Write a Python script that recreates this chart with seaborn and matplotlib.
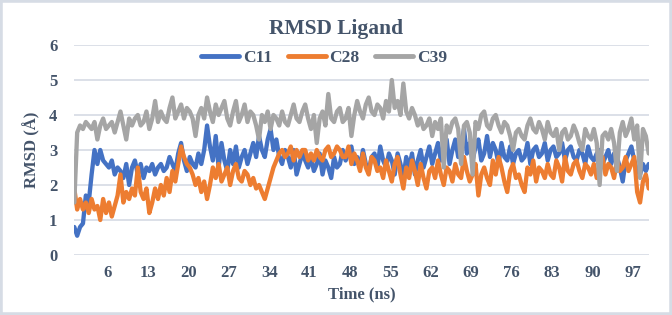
import matplotlib
matplotlib.use("Agg")
import matplotlib.pyplot as plt
from matplotlib.patches import Rectangle
import numpy as np
import pandas as pd
import seaborn as sns


# time axis (ns) and RMSD values, two per ns
time_ns = np.arange(0.25, 100, 0.5)

c11 = [0.8, 0.55, 0.8, 0.9, 1.7, 1.5, 2.3, 3.0, 2.6, 3.0,
       2.7, 2.6, 2.5, 2.7, 2.3, 2.5, 2.4, 2.2, 2.6, 2.0,
       2.5, 2.7, 2.3, 2.6, 2.2, 2.5, 2.4, 2.6, 2.3, 2.5,
       2.6, 2.4, 2.5, 2.8, 2.6, 2.4, 2.9, 3.2, 2.7, 2.4,
       2.8, 2.6, 2.5, 2.9, 2.6, 3.0, 3.7, 3.1, 2.7, 3.4,
       2.5, 3.2, 2.7, 2.4, 3.0, 2.6, 3.1, 2.5, 2.8, 3.0,
       2.6, 2.9, 3.2, 2.8, 3.4, 3.0, 2.8, 3.3, 3.6, 3.0,
       3.3, 2.8, 2.6, 3.0, 2.8, 2.5, 3.0, 2.3, 2.6, 2.9,
       2.7, 2.5, 2.8, 2.4, 2.6, 2.9, 2.3, 2.7, 2.5, 2.2,
       2.8, 2.5, 2.6, 3.0, 2.7, 2.9, 3.1, 2.6, 2.8, 2.5,
       3.0, 2.6, 2.4, 2.8, 2.9, 2.5, 3.1, 2.7, 2.5, 2.9,
       2.7, 2.3, 2.9, 2.6, 2.2, 2.8, 2.5, 2.9, 2.3, 2.7,
       3.0, 2.5, 2.8, 3.1, 2.6, 2.9, 3.2, 2.7, 2.9, 3.3,
       2.6, 3.0, 3.3, 2.8, 3.1, 3.6, 2.9, 3.2, 2.7, 3.1,
       3.3, 2.7, 2.9, 3.4, 2.8, 3.2, 3.0, 2.6, 3.2, 2.8,
       2.7, 3.1, 2.6, 2.9, 3.0, 2.7, 2.8, 3.2, 2.6, 3.0,
       3.1, 2.8, 2.9, 3.2, 2.7, 3.0, 3.1, 2.8, 2.9, 3.2,
       2.7, 3.0, 3.1, 2.8, 2.7, 3.0, 2.9, 2.6, 3.1, 2.8,
       2.7, 2.9, 3.0, 2.6, 2.8, 3.0, 2.6, 2.9, 2.8, 2.5,
       2.1, 2.7, 2.9, 3.1, 2.7, 2.4, 2.3, 2.6, 2.4, 2.6]

c28 = [1.9, 1.3, 1.6, 1.3, 1.5, 1.2, 1.6, 1.3, 1.4, 1.0,
       1.6, 1.2, 1.5, 1.1, 1.4, 1.7, 2.3, 1.5, 1.8, 1.6,
       1.9, 1.7, 2.5, 1.8, 1.6, 1.9, 1.2, 1.5, 1.9, 1.6,
       2.0, 1.7, 2.2, 1.8, 2.4, 2.1, 2.6, 3.1, 2.8, 2.6,
       2.5, 2.3, 2.0, 2.2, 1.8, 2.1, 1.6, 2.0, 2.5, 2.2,
       2.6, 2.1, 2.3, 2.5, 2.0, 2.4, 2.6, 2.2, 2.1, 2.4,
       2.3, 2.0, 2.2, 1.9, 2.0, 1.8, 1.6, 1.9, 2.2, 2.5,
       2.7, 2.9, 3.0, 2.8, 2.9, 3.1, 2.7, 3.0, 2.8, 3.0,
       3.0, 2.7, 2.9, 2.7, 3.0, 2.8, 2.7, 3.0, 3.1, 2.8,
       2.9, 3.1, 3.0, 2.8, 2.8, 3.1, 2.6, 2.9, 2.7, 2.4,
       2.9, 2.5, 2.3, 2.8, 2.7, 2.4, 2.5, 2.2, 2.7, 2.4,
       2.1, 2.6, 2.8, 2.3, 1.9, 2.5, 2.2, 2.7, 2.4, 2.0,
       2.6, 2.2, 1.9, 2.4, 2.5, 2.2, 2.7, 2.3, 2.0, 2.5,
       2.4, 2.1, 2.6, 2.3, 2.2, 2.8, 2.4, 2.1, 2.3, 2.6,
       1.7, 2.3, 2.5, 2.2, 2.0, 2.7, 2.3, 2.8, 2.5, 2.1,
       1.8, 2.4, 2.6, 2.2, 2.3, 2.0, 1.8, 2.5, 2.3, 2.7,
       2.1, 2.5, 2.4, 2.2, 2.6, 2.3, 2.2, 2.7, 2.5, 2.1,
       2.8, 2.4, 2.3, 2.6, 2.7, 2.4, 2.2, 2.6, 2.5, 2.3,
       2.6, 2.2, 2.4, 2.8, 2.3, 2.6, 2.5, 2.2, 2.7, 2.4,
       2.5, 2.8, 2.4, 2.6, 2.8, 1.8, 1.5, 2.1, 2.3, 1.9]

c39 = [1.5, 3.5, 3.7, 3.6, 3.8, 3.7, 3.6, 3.8, 3.3, 3.7,
       3.9, 3.6, 3.7, 3.8, 3.5, 3.8, 4.1, 3.7, 3.3, 3.9,
       3.7, 3.9, 4.0, 3.7, 3.8, 4.1, 3.6, 3.9, 4.4, 3.8,
       4.1, 3.9, 3.8, 4.2, 4.5, 3.9, 4.1, 4.3, 3.9, 4.2,
       4.1, 3.9, 3.4, 4.0, 4.2, 3.9, 4.5, 4.1, 3.8, 4.3,
       4.0, 4.2, 4.4, 3.9, 3.7, 4.1, 4.4, 3.8, 4.0, 4.3,
       3.8, 4.1, 4.0, 3.7, 3.3, 4.0, 3.8, 4.1, 3.6, 4.0,
       3.9, 3.7, 4.1, 3.8, 3.7, 4.0, 4.3, 3.9, 3.8, 4.1,
       4.3, 3.9, 3.6, 4.0, 3.2, 3.9, 4.1, 3.7, 4.6, 3.9,
       3.8, 4.1, 4.2, 3.8, 3.9, 4.2, 3.4, 4.0, 4.4, 4.1,
       3.9, 4.3, 4.5, 4.1, 4.0, 4.3, 4.2, 3.9, 4.4, 4.1,
       5.0, 4.2, 4.4, 4.0, 4.9, 4.1, 3.9, 4.2, 4.0, 3.7,
       3.9, 3.6, 3.7, 3.9, 3.4, 3.8, 3.6, 3.9, 2.5, 3.7,
       3.5, 3.8, 3.9, 3.6, 2.6, 3.7, 3.8, 3.5, 2.3, 3.8,
       3.6, 4.0, 4.1, 3.7, 3.6, 3.9, 4.0, 3.7, 3.5, 3.8,
       3.7, 3.4, 3.0, 3.5, 3.6, 3.4, 3.3, 3.7, 3.9, 3.6,
       3.5, 3.8, 3.6, 3.3, 3.8, 3.5, 3.4, 3.6, 3.0, 3.5,
       3.6, 3.3, 3.4, 3.7, 3.5, 3.2, 3.0, 3.6, 3.4, 3.3,
       3.6, 3.2, 2.0, 3.4, 3.5, 3.3, 3.6, 3.2, 2.4, 3.5,
       3.8, 3.4, 3.6, 3.9, 3.3, 3.7, 2.2, 3.6, 3.4, 2.9]

series_names = ["C11", "C28", "C39"]
series_colors = ["#4472C4", "#ED7D31", "#A5A5A5"]
x_ticks = [6, 13, 20, 27, 34, 41, 48, 55, 62, 69, 76, 83, 90, 97]

df = pd.concat([
    pd.DataFrame({"time": time_ns, "rmsd": vals, "ligand": name})
    for name, vals in zip(series_names, [c11, c28, c39])
])

sns.set_theme(style="white")
plt.rcParams["font.family"] = ["Liberation Serif", "DejaVu Serif"]
plt.rcParams["font.weight"] = "bold"
text_col = "#44546A"

fig = plt.figure(figsize=(6.72, 3.15), dpi=100)
ax = fig.add_axes([74 / 672, 1 - 255 / 315, 575 / 672, 210 / 315])

sns.lineplot(data=df, x="time", y="rmsd", hue="ligand", hue_order=series_names,
             palette=series_colors, estimator=None, linewidth=3.1, ax=ax)

ax.set_xlim(0.2, 99.8)
ax.set_ylim(0, 6)
ax.set_xticks(x_ticks)
ax.set_yticks(range(0, 7))
ax.grid(axis="y", color="#D9DDE6", linewidth=1.3)
ax.set_axisbelow(True)
for s in ax.spines.values():
    s.set_visible(False)
ax.tick_params(axis="both", length=0, labelsize=12, colors=text_col)
ax.tick_params(axis="y", pad=12)
ax.tick_params(axis="x", pad=7)
for lab in ax.get_xticklabels() + ax.get_yticklabels():
    lab.set_fontweight("bold")

ax.set_xlabel("Time (ns)", fontsize=12, fontweight="bold", color=text_col, labelpad=4)
ax.set_ylabel("RMSD (Å)", fontsize=12, fontweight="bold", color=text_col, labelpad=6)

handles, labels = ax.get_legend_handles_labels()
leg = ax.legend(handles, labels, loc="center", bbox_to_anchor=(0.435, 0.938),
                ncol=3, frameon=False, fontsize=12.5, handlelength=2.2,
                handletextpad=0.2, columnspacing=0.9, borderaxespad=0)
for t in leg.get_texts():
    t.set_color(text_col)
    t.set_fontweight("bold")
for ln in leg.get_lines():
    ln.set_linewidth(3.5)

fig.text(336 / 672, 1 - 29 / 315, "RMSD Ligand", ha="center", va="center",
         fontsize=15.5, fontweight="bold", color=text_col)

fig.patches.append(Rectangle((0, 0), 1, 1, transform=fig.transFigure, fill=False,
                             edgecolor="#D6DCE5", linewidth=4))

fig.savefig("out.png", dpi=100)
